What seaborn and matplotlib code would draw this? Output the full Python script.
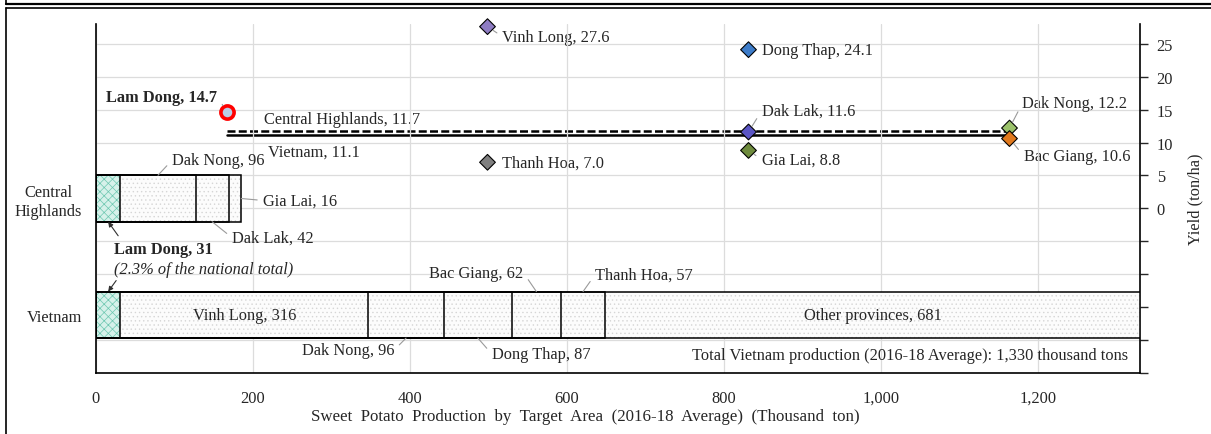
import numpy as np
import pandas as pd
import matplotlib
matplotlib.use("Agg")
import matplotlib.pyplot as plt
import seaborn as sns
from matplotlib.lines import Line2D

# ---------------- data ----------------
regions = ["Central Highlands", "Vietnam"]
region_ticklabels = ["Central\nHighlands", "Vietnam"]

ch_provinces = ["Lam Dong", "Dak Nong", "Dak Lak", "Gia Lai"]
ch_production = [31, 96, 42, 16]
vn_provinces = ["Lam Dong", "Vinh Long", "Dak Nong", "Dong Thap",
                "Bac Giang", "Thanh Hoa", "Other provinces"]
vn_production = [31, 316, 96, 87, 62, 57, 681]
vn_total = 1330
lam_dong_share = 2.3

yield_provinces = ["Lam Dong", "Vinh Long", "Thanh Hoa", "Dong Thap",
                   "Dak Lak", "Gia Lai", "Dak Nong", "Bac Giang"]
yield_values = [14.7, 27.6, 7.0, 24.1, 11.6, 8.8, 12.2, 10.6]
yield_group = ["G1", "G2", "G2", "G3", "G3", "G3", "G4", "G4"]
yield_groups = ["G1", "G2", "G3", "G4"]

avg_names = ["Central Highlands", "Vietnam"]
avg_yield = [11.7, 11.1]

x_ticks = [0, 200, 400, 600, 800, 1000, 1200]
x_ticklabels = ["0", "200", "400", "600", "800", "1,000", "1,200"]
y2_ticks = [-25, -20, -15, -10, -5, 0, 5, 10, 15, 20, 25]
y2_ticklabels = ["", "", "", "", "", "0", "5", "10", "15", "20", "25"]

marker_colors = {"Vinh Long": "#8e7cc3", "Thanh Hoa": "#7f7f7f",
                 "Dong Thap": "#3d7cc9", "Dak Lak": "#5a55c4",
                 "Gia Lai": "#6e8b3d", "Dak Nong": "#9bc26b",
                 "Bac Giang": "#e0781c"}

# ---------------- style ----------------
sns.set_style("white")
plt.rcParams["font.family"] = ["Liberation Serif", "DejaVu Serif"]
plt.rcParams["hatch.linewidth"] = 0.5
FS = 11.8

W, H = 1211, 435
fig = plt.figure(figsize=(W / 100, H / 100), dpi=100)
rect = [96 / W, (H - 374) / H, 1044 / W, 349 / H]
ax2 = fig.add_axes(rect)
ax = fig.add_axes(rect)
ax2.set_zorder(0)
ax.set_zorder(1)
ax.patch.set_alpha(0)

# ---------------- stacked production bars ----------------
rows = []
for reg, names, vals in [(regions[0], ch_provinces, ch_production),
                         (regions[1], vn_provinces, vn_production)]:
    cum = np.cumsum(vals)
    for i, (n, v, c) in enumerate(zip(names, vals, cum)):
        rows.append(dict(region=reg, province=n, value=v, idx=i,
                         end=c, start=c - v))
bars = pd.DataFrame(rows)
bars["mid"] = (bars["start"] + bars["end"]) / 2

for k in sorted(bars["idx"].unique(), reverse=True):
    sub = bars[bars["idx"] == k]
    if k == 0:
        fc, hc, hatch = "#d6f1ea", "#6cc7b0", "xxxx"
    else:
        fc, hc, hatch = "#fcfcfc", "#d6d6d6", "...."
    sns.barplot(data=sub, x="end", y="region", order=regions, orient="h",
                width=0.4, errorbar=None, saturation=1, color=fc,
                edgecolor=hc, linewidth=0, hatch=hatch, ax=ax, zorder=2)
    sns.barplot(data=sub, x="end", y="region", order=regions, orient="h",
                width=0.4, errorbar=None, saturation=1, fill=False,
                color="black", linewidth=1.1, ax=ax, zorder=3)

ax.set_xlim(0, vn_total)
ax.set_ylim(1.5, -1.5)
ax.set_xticks(x_ticks, x_ticklabels)
ax.set_yticks([0, 1], region_ticklabels)
for t in ax.get_yticklabels():
    t.set_multialignment("center")
ax.tick_params(axis="x", length=0, pad=12, labelsize=FS)
ax.tick_params(axis="y", length=0, pad=10, labelsize=FS)
ax.set_ylabel("")
ax.set_xlabel("Sweet  Potato  Production  by  Target  Area  (2016-18  Average)  (Thousand  ton)",
              fontsize=12.2)
ax.xaxis.set_label_coords(0.469, -0.10)
ax.set_axisbelow(True)
ax.xaxis.grid(True, color="#dcdcdc", lw=0.9)
ax.yaxis.grid(False)
for s in ["top", "right"]:
    ax.spines[s].set_visible(False)
for s in ["left", "bottom"]:
    ax.spines[s].set_color("black")
    ax.spines[s].set_linewidth(1.2)

# ---------------- yield markers ----------------
ydf = pd.DataFrame(dict(province=yield_provinces, yld=yield_values,
                        group=yield_group))
dia = ydf[ydf["province"] != "Lam Dong"]
lam = ydf[ydf["province"] == "Lam Dong"]

ax2.yaxis.grid(True, color="#dcdcdc", lw=0.9)
ax2.set_axisbelow(True)

gx = {g: i for i, g in enumerate(yield_groups)}
ax2.plot([gx[yield_groups[0]], gx[yield_groups[-1]]], [avg_yield[0]] * 2,
         color="black", lw=1.8, dashes=(3.2, 1.3), zorder=2)
ax2.plot([gx[yield_groups[0]], gx[yield_groups[-1]]], [avg_yield[1]] * 2,
         color="black", lw=1.8, zorder=2)

sns.stripplot(data=dia, x="group", y="yld", hue="province", order=yield_groups,
              palette=marker_colors, jitter=False, marker="D", size=8,
              edgecolor="black", linewidth=0.8, legend=False, ax=ax2,
              zorder=4)
sns.stripplot(data=lam, x="group", y="yld", order=yield_groups, jitter=False,
              marker="o", size=9.5, color="#b9cde6", edgecolor="#ff0000",
              linewidth=2.6, legend=False, ax=ax2, zorder=5)
for coll in ax2.collections:
    if len(coll.get_offsets()) > 0:
        coll.set_clip_on(False)

ax2.set_xlim(-0.5, len(yield_groups) - 0.5)
ax2.set_ylim(-25, 28)
ax2.set_xticks([])
ax2.set_xlabel("")
ax2.yaxis.tick_right()
ax2.yaxis.set_label_position("right")
ax2.set_yticks(y2_ticks, y2_ticklabels)
ax2.tick_params(axis="y", direction="out", length=6, width=1, pad=6,
                labelsize=FS, right=True, left=False)
ax2.set_ylabel("Yield (ton/ha)", fontsize=FS, labelpad=10)
for s in ["top", "left", "bottom"]:
    ax2.spines[s].set_visible(False)
ax2.spines["right"].set_color("black")
ax2.spines["right"].set_linewidth(1.2)

leader = dict(arrowstyle="-", color="#9a9a9a", lw=0.8, shrinkA=2, shrinkB=5)


def ylab(name, off, ha, lead=True, bold=False):
    r = ydf[ydf["province"] == name].iloc[0]
    ap = None
    if lead:
        ap = dict(leader, relpos=(1, 0.5) if ha == "right" else (0, 0.5))
    ax2.annotate(f"{name}, {r.yld:.1f}", xy=(gx[r.group], r.yld), xytext=off,
                 textcoords="offset pixels", ha=ha, va="center", fontsize=FS,
                 fontweight="bold" if bold else "normal", arrowprops=ap,
                 zorder=6)


ylab("Lam Dong", (-9, 15), "right", bold=True)
ylab("Vinh Long", (15, -10), "left")
ylab("Dong Thap", (14, 0), "left", lead=False)
ylab("Dak Lak", (13, 21), "left")
ylab("Thanh Hoa", (15, 0), "left", lead=False)
ylab("Gia Lai", (13, -9), "left")
ylab("Dak Nong", (13, 25), "left")
ylab("Bac Giang", (14, -17), "left")

ax2.annotate(f"{avg_names[0]}, {avg_yield[0]:.1f}", xy=(0, avg_yield[0]),
             xytext=(38, 12), textcoords="offset pixels", ha="left",
             va="center", fontsize=FS)
ax2.annotate(f"{avg_names[1]}, {avg_yield[1]:.1f}", xy=(0, avg_yield[1]),
             xytext=(41, -16), textcoords="offset pixels", ha="left",
             va="center", fontsize=FS)

# ---------------- bar labels ----------------
half = 0.2


def seg(reg, name):
    return bars[(bars["region"] == reg) & (bars["province"] == name)].iloc[0]


def blab(reg, name, where, off, ha, edge=False):
    r = seg(reg, name)
    yi = regions.index(reg)
    y = yi - half if where == "top" else (yi + half if where == "bottom" else yi)
    x = r.end if edge else r.mid
    ap = dict(leader, relpos=(1, 0.5) if ha == "right" else (0, 0.5),
              shrinkB=0)
    ax.annotate(f"{name}, {r.value}", xy=(x, y), xytext=off,
                textcoords="offset pixels", ha=ha, va="center", fontsize=FS,
                arrowprops=ap, zorder=6)


blab(regions[0], "Dak Nong", "top", (14, 15), "left")
blab(regions[0], "Gia Lai", "mid", (22, -2), "left", edge=True)
blab(regions[0], "Dak Lak", "bottom", (20, -16), "left")
blab(regions[1], "Dak Nong", "bottom", (-12, -12), "right")
blab(regions[1], "Dong Thap", "bottom", (14, -16), "left")
blab(regions[1], "Bac Giang", "top", (-13, 19), "right")
blab(regions[1], "Thanh Hoa", "top", (12, 17), "left")

for name in ["Vinh Long", "Other provinces"]:
    r = seg(regions[1], name)
    ax.text(r.mid, 1, f"{name}, {r.value}", ha="center", va="center",
            fontsize=FS, zorder=6)

ld = seg(regions[0], "Lam Dong")
ax.annotate(f"Lam Dong, {ld.value}", xy=(ld.mid, 0 + half), xytext=(6, -27),
            textcoords="offset pixels", ha="left", va="center", fontsize=FS,
            fontweight="bold", zorder=6)
ax.annotate(f"({lam_dong_share}% of the national total)", xy=(ld.mid, 0 + half),
            xytext=(6, -47), textcoords="offset pixels", ha="left",
            va="center", fontsize=FS, style="italic", zorder=6)
arrow = dict(arrowstyle="-|>", color="#303030", lw=0.8, mutation_scale=7,
             shrinkA=0, shrinkB=0)
ax.annotate("", xy=(ld.mid, 0 + half), xytext=(10, -14),
            textcoords="offset pixels", arrowprops=arrow, zorder=6)
ax.annotate("", xy=(ld.mid, 1 - half), xytext=(8, 11),
            textcoords="offset pixels", arrowprops=arrow, zorder=6)

ax.annotate(f"Total Vietnam production (2016-18 Average): {vn_total:,} thousand tons",
            xy=(1, 0), xycoords="axes fraction", xytext=(-12, 18),
            textcoords="offset pixels", ha="right", va="center", fontsize=FS)

# ---------------- outer frame ----------------
fx = 6 / W
for y, lw in [((H - 5) / H, 1.6), ((H - 8.5) / H, 1.2)]:
    fig.add_artist(Line2D([fx, 1], [y, y], transform=fig.transFigure,
                          color="black", lw=lw))
fig.add_artist(Line2D([fx, fx], [0, (H - 8.5) / H], transform=fig.transFigure,
                      color="black", lw=1.2))
fig.add_artist(Line2D([fx, fx], [(H - 5) / H, 1], transform=fig.transFigure,
                      color="black", lw=1.2))

fig.savefig("out.png", dpi=100)
